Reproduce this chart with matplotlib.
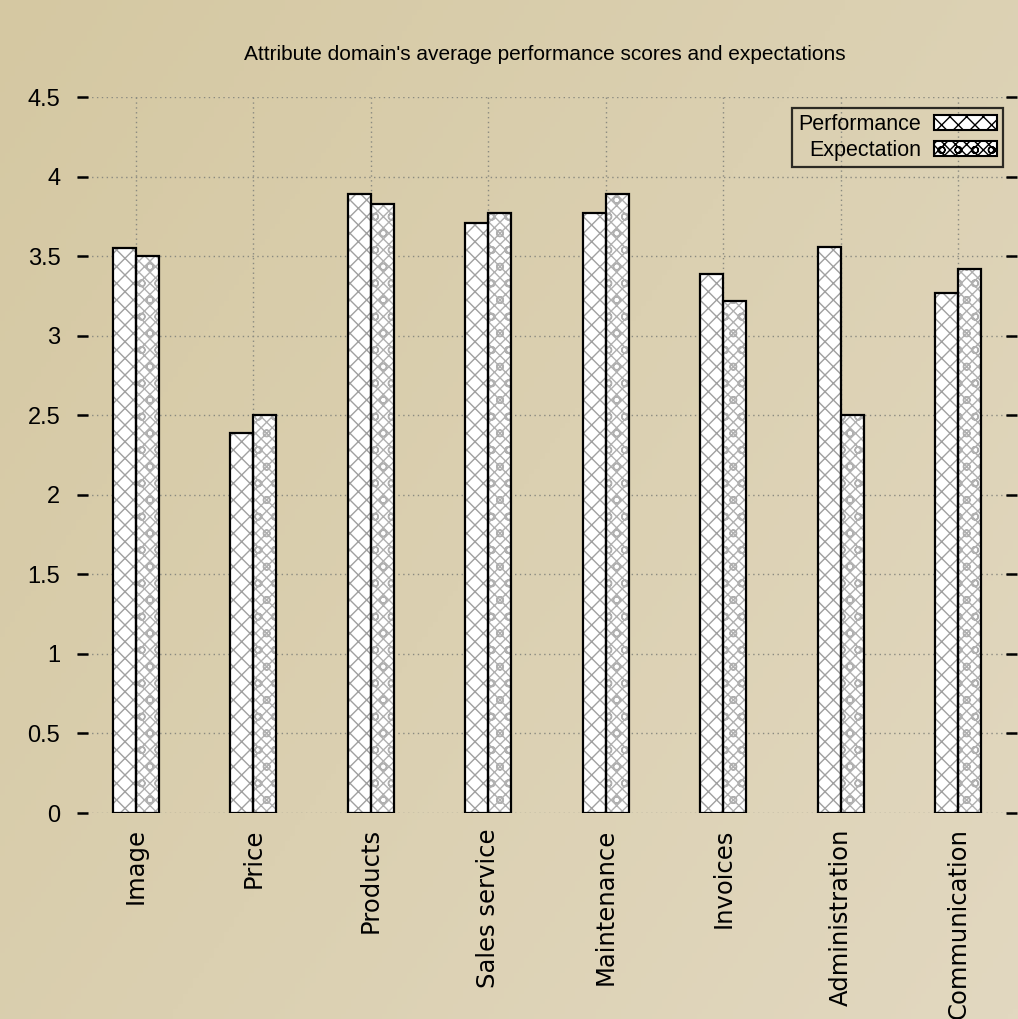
import numpy as np
import matplotlib
matplotlib.use("Agg")
import matplotlib.pyplot as plt
from matplotlib.patches import Patch
from matplotlib.colors import LinearSegmentedColormap

categories = ["Image", "Price", "Products", "Sales service", "Maintenance",
              "Invoices", "Administration", "Communication"]
performance = [3.55, 2.39, 3.89, 3.71, 3.77, 3.39, 3.56, 3.27]
expectation = [3.50, 2.50, 3.83, 3.77, 3.89, 3.22, 2.50, 3.42]
yticks = [0, 0.5, 1, 1.5, 2, 2.5, 3, 3.5, 4, 4.5]
ytick_labels = ["0", "0.5", "1", "1.5", "2", "2.5", "3", "3.5", "4", "4.5"]
title = "Attribute domain's average performance scores and expectations"
series_names = ["Performance", "Expectation"]

W, H = 1018, 1019
fig = plt.figure(figsize=(W / 100, H / 100), dpi=100)

# background gradient
bg = fig.add_axes([0, 0, 1, 1], zorder=-10)
gx = np.linspace(0, 1, 200)[None, :]
gy = np.linspace(0, 1, 200)[:, None]
grad = 0.6 * gx + 0.4 * gy
cmap = LinearSegmentedColormap.from_list("bg", ["#d5c8a2", "#dbd0b1", "#e2d8c0"])
bg.imshow(grad, cmap=cmap, aspect="auto", extent=[0, 1, 0, 1], origin="upper")
bg.axis("off")

narrow = ["Liberation Sans", "DejaVu Sans"]

ax = fig.add_axes([77 / W, (H - 813) / H, (1017 - 77) / W, (813 - 97) / H])
ax.patch.set_alpha(0)
x = np.arange(len(categories))
bw = 0.196
hatch_gray = "#a0a0a0"
plt.rcParams["hatch.color"] = hatch_gray
plt.rcParams["hatch.linewidth"] = 1.0

# hatched fills
ax.bar(x - bw / 2, performance, bw, color="white", hatch="xx", edgecolor=hatch_gray,
       linewidth=0, zorder=2)
ax.bar(x + bw / 2, expectation, bw, color="white", hatch="xxxo", edgecolor="#b0b0b0",
       linewidth=0, zorder=2)
# outlines
ax.bar(x - bw / 2, performance, bw, fill=False, edgecolor="black", linewidth=1.6, zorder=3)
ax.bar(x + bw / 2, expectation, bw, fill=False, edgecolor="black", linewidth=1.6, zorder=3)

ax.set_xlim(-0.5, 7.5)
ax.set_ylim(0, 4.5)
for s in ax.spines.values():
    s.set_visible(False)

ax.set_yticks(yticks)
ax.set_yticklabels(ytick_labels, fontfamily=narrow, fontsize=17)
ax.tick_params(axis="y", direction="in", length=8, width=1.8, pad=12, right=True,
               colors="black")
ax.set_xticks(x)
ax.set_xticklabels(categories, rotation=90, fontfamily="DejaVu Sans", fontsize=17.5)
ax.tick_params(axis="x", length=0, pad=11)
ax.grid(True, color="#8a8a80", linestyle=(0, (1, 2.5)), linewidth=1.0, zorder=1)
ax.set_axisbelow(True)

fig.text(545 / W, 1 - 54 / H, title, ha="center", va="center",
         fontfamily=narrow, fontsize=15)

handles = [Patch(facecolor="white", edgecolor="black", hatch="xx", linewidth=1.5),
           Patch(facecolor="white", edgecolor="black", hatch="xxxo", linewidth=1.5)]
leg = ax.legend(handles, series_names, loc="upper right",
                bbox_to_anchor=(1003 / W, 1 - 108 / H), bbox_transform=fig.transFigure,
                borderaxespad=0, markerfirst=False, fancybox=False,
                prop={"family": narrow, "size": 15.5}, handlelength=2.9, handleheight=0.7,
                handletextpad=0.6, labelspacing=0.2, borderpad=0.3, frameon=True)
leg.get_frame().set_facecolor("none")
leg.get_frame().set_edgecolor("black")
leg.get_frame().set_linewidth(1.6)

fig.savefig("out.png", dpi=100)
